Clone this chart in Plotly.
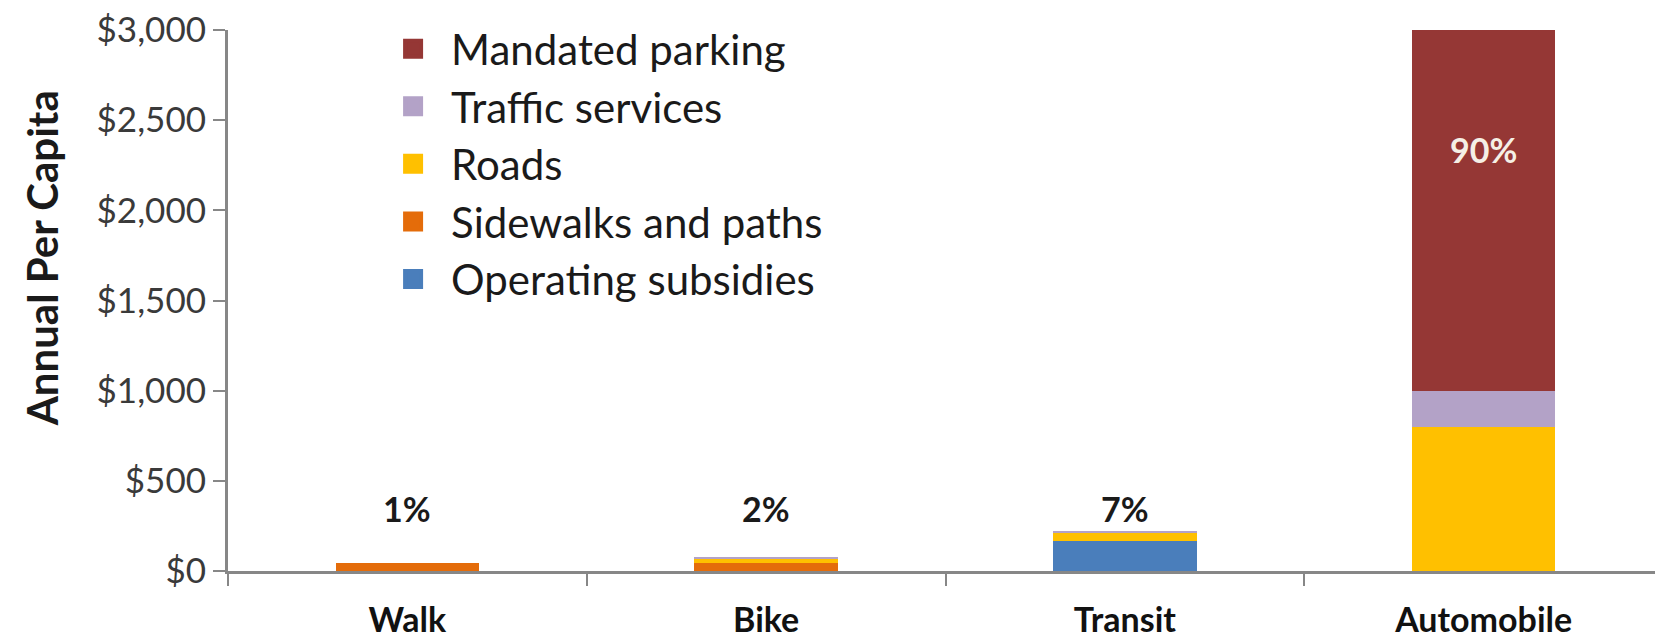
import plotly.graph_objects as go

categories = ["Walk", "Bike", "Transit", "Automobile"]
operating_subsidies = [0, 0, 165, 0]
sidewalks_paths = [42, 45, 0, 0]
roads = [0, 20, 45, 800]
traffic_services = [0, 12, 12, 200]
mandated_parking = [0, 0, 0, 2000]
share_labels = ["1%", "2%", "7%", "90%"]
y_ticks = [0, 500, 1000, 1500, 2000, 2500, 3000]
y_tick_labels = ["$0", "$500", "$1,000", "$1,500", "$2,000", "$2,500", "$3,000"]

series = [
    ("Operating subsidies", operating_subsidies, "#4A7EBB"),
    ("Sidewalks and paths", sidewalks_paths, "#E46C0A"),
    ("Roads", roads, "#FFC000"),
    ("Traffic services", traffic_services, "#B3A2C7"),
    ("Mandated parking", mandated_parking, "#953735"),
]

FONT = "Lato, Calibri, Carlito, sans-serif"
fig = go.Figure()
for name, vals, col in series:
    fig.add_trace(go.Bar(x=categories, y=vals, name=name, marker_color=col,
                         marker_line_width=0, showlegend=False, cliponaxis=False))
# legend entries (top to bottom)
for name, vals, col in reversed(series):
    fig.add_trace(go.Scatter(x=[None], y=[None], mode="markers", name=name,
                             marker=dict(symbol="square", size=16, color=col,
                                         line=dict(color=col, width=4))))

totals = [sum(v) for v in zip(*[s[1] for s in series])]
label_level = max(totals[:3])
for i, cat in enumerate(categories):
    if i < 3:
        fig.add_annotation(x=cat, y=label_level, text="<b>%s</b>" % share_labels[i],
                           showarrow=False, yanchor="bottom", yshift=0,
                           font=dict(family=FONT, size=34, color="#1a1a1a"))
    else:
        fig.add_annotation(x=cat, y=totals[i] - 0.33 * mandated_parking[i],
                           text="<b>%s</b>" % share_labels[i], showarrow=False,
                           font=dict(family=FONT, size=34, color="#F5EFE6"))

# y-axis title
fig.add_annotation(xref="paper", yref="paper", x=-0.1296, y=0.578,
                   text="<b>Annual Per Capita</b>", textangle=-90, showarrow=False,
                   xanchor="center", yanchor="middle",
                   font=dict(family=FONT, size=42, color="#1a1a1a"))

fig.update_layout(
    width=1655, height=633,
    margin=dict(l=220, r=0, t=22, b=70),
    paper_bgcolor="white", plot_bgcolor="white",
    barmode="stack", bargap=0.6,
    font=dict(family=FONT, color="#1a1a1a"),
    legend=dict(x=0.1025, y=1.028, xanchor="left", yanchor="top",
                font=dict(family=FONT, size=42, color="#1a1a1a"),
                bgcolor="rgba(0,0,0,0)", itemwidth=66, traceorder="normal"),
)
fig.update_xaxes(
    showline=True, linecolor="#878787", linewidth=3,
    ticks="outside", tickson="boundaries", ticklen=12, tickwidth=2, tickcolor="#878787",
    tickfont=dict(family=FONT, size=34, color="#111111"),
    tickprefix="<b>", ticksuffix="</b>", ticklabelstandoff=17,
    showgrid=False, zeroline=False,
)
fig.update_yaxes(
    range=[0, 3000], tickmode="array", tickvals=y_ticks, ticktext=y_tick_labels,
    ticklabeloverflow="allow",
    showline=True, linecolor="#878787", linewidth=3,
    ticks="outside", ticklen=12, tickwidth=2, tickcolor="#878787",
    tickfont=dict(family=FONT, size=35, color="#3a3a3a"),
    showgrid=False, zeroline=False,
)
fig.write_html("out.html")
